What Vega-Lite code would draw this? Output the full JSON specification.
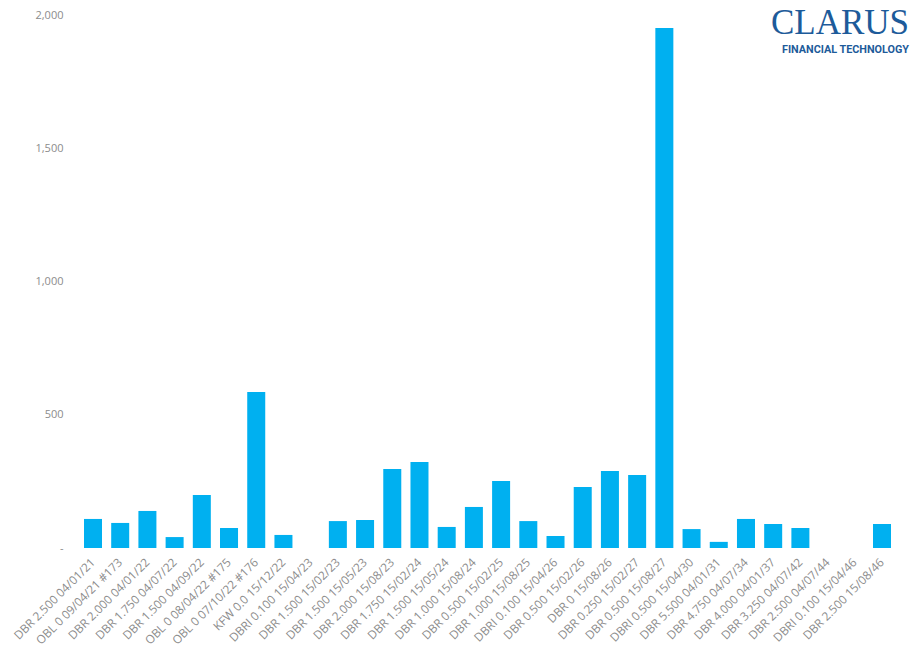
{
  "$schema": "https://vega.github.io/schema/vega-lite/v6.json",
  "width": 819,
  "height": 533,
  "autosize": {"type": "none"},
  "padding": {"left": 78, "top": 15, "right": 13, "bottom": 112},
  "background": "white",
  "title": {
    "text": "CLARUS",
    "subtitle": "FINANCIAL TECHNOLOGY",
    "anchor": "end",
    "frame": "group",
    "orient": "top",
    "offset": -46,
    "dx": 12,
    "font": "Liberation Serif",
    "fontSize": 35,
    "fontWeight": "normal",
    "color": "#1d5b9a",
    "subtitleFont": "Roboto",
    "subtitleFontSize": 10.8,
    "subtitleFontWeight": "bold",
    "subtitleColor": "#1d5b9a",
    "subtitlePadding": 3
  },
  "data": {
    "values": [
      {"bond": "DBR 2.500 04/01/21", "value": 109},
      {"bond": "OBL 0 09/04/21 #173", "value": 94},
      {"bond": "DBR 2.000 04/01/22", "value": 139},
      {"bond": "DBR 1.750 04/07/22", "value": 41},
      {"bond": "DBR 1.500 04/09/22", "value": 199},
      {"bond": "OBL 0 08/04/22 #175", "value": 75},
      {"bond": "OBL 0 07/10/22 #176", "value": 585},
      {"bond": "KFW 0.0 15/12/22", "value": 49},
      {"bond": "DBRI 0.100 15/04/23", "value": 0},
      {"bond": "DBR 1.500 15/02/23", "value": 101},
      {"bond": "DBR 1.500 15/05/23", "value": 105},
      {"bond": "DBR 2.000 15/08/23", "value": 296},
      {"bond": "DBR 1.750 15/02/24", "value": 323},
      {"bond": "DBR 1.500 15/05/24", "value": 79},
      {"bond": "DBR 1.000 15/08/24", "value": 154},
      {"bond": "DBR 0.500 15/02/25", "value": 251},
      {"bond": "DBR 1.000 15/08/25", "value": 101},
      {"bond": "DBRI 0.100 15/04/26", "value": 45},
      {"bond": "DBR 0.500 15/02/26", "value": 229},
      {"bond": "DBR 0 15/08/26", "value": 289},
      {"bond": "DBR 0.250 15/02/27", "value": 274},
      {"bond": "DBR 0.500 15/08/27", "value": 1951},
      {"bond": "DBRI 0.500 15/04/30", "value": 71},
      {"bond": "DBR 5.500 04/01/31", "value": 23},
      {"bond": "DBR 4.750 04/07/34", "value": 109},
      {"bond": "DBR 4.000 04/01/37", "value": 90},
      {"bond": "DBR 3.250 04/07/42", "value": 75},
      {"bond": "DBR 2.500 04/07/44", "value": 0},
      {"bond": "DBRI 0.100 15/04/46", "value": 0},
      {"bond": "DBR 2.500 15/08/46", "value": 90}
    ]
  },
  "mark": {"type": "bar", "color": "#00B0F0"},
  "encoding": {
    "x": {
      "field": "bond",
      "type": "nominal",
      "sort": null,
      "scale": {"paddingInner": 0.338, "paddingOuter": 0.22},
      "axis": {
        "title": null,
        "labelAngle": -45,
        "labelAlign": "right",
        "labelBaseline": "middle",
        "labelPadding": 12,
        "labelFont": "Open Sans",
        "labelFontSize": 11.8,
        "labelColor": "#8c8c8c",
        "ticks": false,
        "domain": false,
        "grid": false
      }
    },
    "y": {
      "field": "value",
      "type": "quantitative",
      "scale": {"domain": [0, 2000], "nice": false},
      "axis": {
        "title": null,
        "values": [0, 500, 1000, 1500, 2000],
        "labelExpr": "datum.value == 0 ? '-\u00a0\u00a0' : format(datum.value, ',')",
        "labelPadding": 15,
        "labelFont": "Open Sans",
        "labelFontSize": 11,
        "labelColor": "#8c8c8c",
        "ticks": false,
        "domain": false,
        "grid": false
      }
    }
  },
  "config": {"view": {"stroke": null}}
}
